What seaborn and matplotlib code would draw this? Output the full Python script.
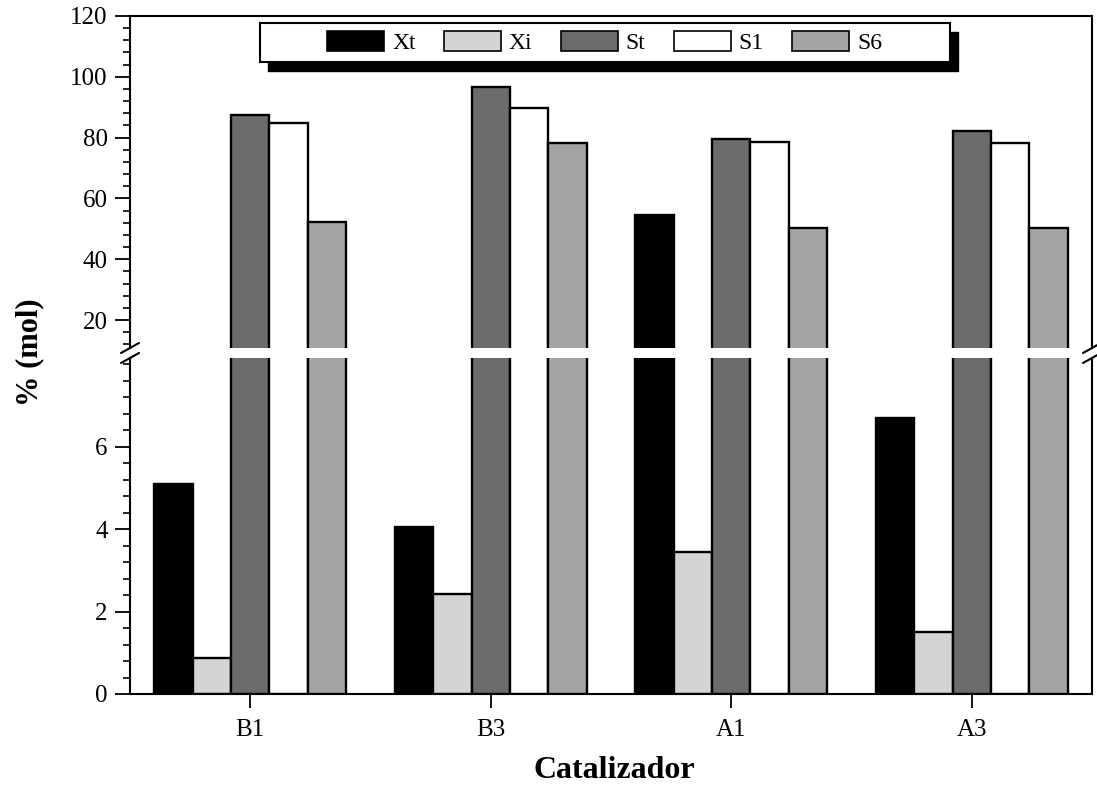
import numpy as np
import pandas as pd
import matplotlib
matplotlib.use('Agg')
import matplotlib.pyplot as plt
import seaborn as sns
from matplotlib.patches import Patch, Rectangle
from matplotlib.lines import Line2D
from matplotlib.ticker import MultipleLocator, FixedLocator

# values (% mol)
catalysts = ['B1', 'B3', 'A1', 'A3']
series = ['Xt', 'Xi', 'St', 'S1', 'S6']
xt = [5.1, 4.05, 54.5, 6.7]
xi = [0.88, 2.42, 3.45, 1.5]
st = [87.4, 96.5, 79.5, 82.3]
s1 = [84.7, 89.6, 78.4, 78.1]
s6 = [52.3, 78.3, 50.4, 50.2]
colors = ['#000000', '#d4d4d4', '#6c6c6c', '#ffffff', '#a4a4a4']

rows = []
for name, vals in zip(series, [xt, xi, st, s1, s6]):
    for cat, v in zip(catalysts, vals):
        rows.append({'Catalizador': cat, 'serie': name, 'valor': v})
df = pd.DataFrame(rows)

sns.set_style('ticks')
plt.rcParams['font.family'] = ['Liberation Serif', 'DejaVu Serif']
plt.rcParams.update({'axes.linewidth': 1.5, 'text.color': 'black', 'axes.labelcolor': 'black',
                     'xtick.color': 'black', 'ytick.color': 'black', 'axes.edgecolor': 'black'})

fig = plt.figure(figsize=(10.97, 7.91), dpi=100)
W, H = 1097, 791
left, right = 130 / W, 1092 / W
ax_top = fig.add_axes([left, 1 - 348 / H, right - left, (348 - 16) / H])
ax_bot = fig.add_axes([left, 1 - 694 / H, right - left, (694 - 358) / H])

for ax in (ax_top, ax_bot):
    sns.barplot(data=df, x='Catalizador', y='valor', hue='serie', order=catalysts,
                hue_order=series, palette=colors, edgecolor='black', linewidth=1.7,
                saturation=1, width=0.8, errorbar=None, legend=False, ax=ax)
    ax.set_xlabel('')
    ax.set_ylabel('')
    ax.set_xlim(-0.5, 3.5)
    ax.tick_params(axis='y', which='major', direction='out', length=11, width=1.3,
                   labelsize=18, pad=5)
    ax.tick_params(axis='y', which='minor', direction='out', length=5, width=1.2)

ax_top.set_ylim(10.8, 120)
ax_top.yaxis.set_major_locator(FixedLocator([20, 40, 60, 80, 100, 120]))
ax_top.yaxis.set_minor_locator(MultipleLocator(4))
ax_top.spines['bottom'].set_visible(False)
ax_top.tick_params(axis='x', which='both', bottom=False, labelbottom=False)

ax_bot.set_ylim(0, 8.15)
ax_bot.yaxis.set_major_locator(FixedLocator([0, 2, 4, 6]))
ax_bot.yaxis.set_minor_locator(MultipleLocator(0.4))
ax_bot.spines['top'].set_visible(False)
ax_bot.tick_params(axis='x', direction='out', length=10, width=1.3, labelsize=18, pad=8)

for ax in (ax_top, ax_bot):
    for s in ax.spines.values():
        s.set_linewidth(1.5)

# axis break marks
for xp in (130, 1092):
    for yp in (348, 358):
        fig.add_artist(Line2D([(xp - 9) / W, (xp + 9) / W], [1 - (yp + 5) / H, 1 - (yp - 5) / H],
                              transform=fig.transFigure, color='black', lw=1.5))

# legend with box and drop shadow
x0, x1 = 0.135, 0.852
y0, y1 = 0.861, 0.979
ax_top.add_patch(Rectangle((x0 + 0.0085, y0 - 0.028), x1 - x0, y1 - y0, transform=ax_top.transAxes,
                           facecolor='black', edgecolor='black', clip_on=False, zorder=4))
ax_top.add_patch(Rectangle((x0, y0), x1 - x0, y1 - y0, transform=ax_top.transAxes,
                           facecolor='white', edgecolor='black', lw=1.5, clip_on=False, zorder=5))
handles = [Patch(facecolor=c, edgecolor='black', linewidth=1.2) for c in colors]
leg = ax_top.legend(handles, series, loc='center', bbox_to_anchor=((x0 + x1) / 2, (y0 + y1) / 2),
                    ncol=5, frameon=False, fontsize=17, handlelength=2.4, handleheight=0.9,
                    handletextpad=0.35, columnspacing=1.2)
leg.set_zorder(6)

fig.text(614 / W, 1 - 770 / H, 'Catalizador', ha='center', va='center',
         fontsize=23, fontweight='bold')
fig.text(30 / W, 1 - 352 / H, '% (mol)', ha='center', va='center', rotation=90,
         fontsize=22, fontweight='bold')

fig.savefig('out.png', dpi=100)
